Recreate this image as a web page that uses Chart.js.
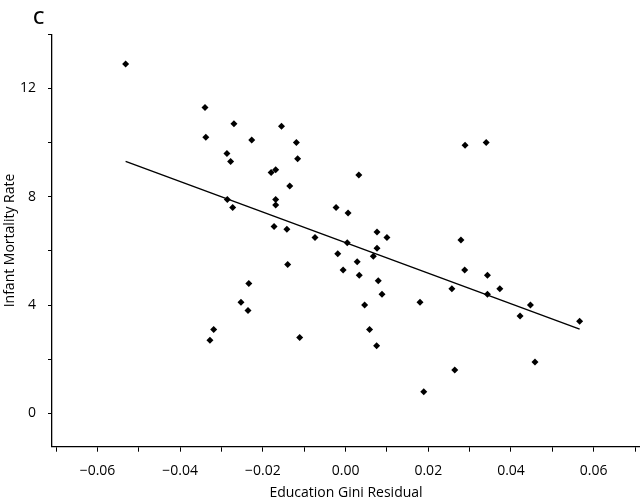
<!DOCTYPE html>
<html>
<head>
<meta charset="utf-8">
<script src="https://cdn.jsdelivr.net/npm/chart.js@4/dist/chart.umd.min.js"></script>
<style>
  html, body { margin: 0; padding: 0; background: #fff; }
  #wrap { position: relative; width: 640px; height: 501px; }
  #panel { position: absolute; left: 33px; top: 5px; font: 600 18px "Open Sans", sans-serif; color: #000; }
  canvas { display: block; }
</style>
</head>
<body>
<div id="wrap">
  <div id="panel">C</div>
  <canvas id="chart" width="640" height="501"></canvas>
</div>
<script>
// x: education Gini residual, y: infant mortality rate
const giniResidual = [
  -0.0532, -0.0340, -0.0270, -0.0338, -0.0227, -0.0287, -0.0278, -0.0155, -0.0119, -0.0116,
  -0.0180, -0.0169, -0.0135, -0.0023, 0.0006, -0.0286, -0.0273, -0.0169, -0.0169, -0.0173,
  -0.0142, -0.0074, 0.0032, 0.0076, 0.0100, 0.0004, 0.0076, 0.0067, -0.0019, 0.0028,
  -0.0006, 0.0033, 0.0079, 0.0088, 0.0046, 0.0180, 0.0058, 0.0075, -0.0111, 0.0189,
  -0.0140, -0.0234, -0.0253, -0.0236, -0.0319, -0.0328, 0.0289, 0.0340, 0.0279, 0.0288,
  0.0343, 0.0257, 0.0373, 0.0343, 0.0447, 0.0422, 0.0566, 0.0458, 0.0264
]
const infantMortality = [
  12.9, 11.3, 10.7, 10.2, 10.1, 9.6, 9.3, 10.6, 10.0, 9.4,
  8.9, 9.0, 8.4, 7.6, 7.4, 7.9, 7.6, 7.9, 7.7, 6.9,
  6.8, 6.5, 8.8, 6.7, 6.5, 6.3, 6.1, 5.8, 5.9, 5.6,
  5.3, 5.1, 4.9, 4.4, 4.0, 4.1, 3.1, 2.5, 2.8, 0.8,
  5.5, 4.8, 4.1, 3.8, 3.1, 2.7, 9.9, 10.0, 6.4, 5.3,
  5.1, 4.6, 4.6, 4.4, 4.0, 3.6, 3.4, 1.9, 1.6
]
// fitted regression line, read at its two ends
const fitX = [-0.0532, 0.0566]
const fitY = [9.31, 3.11]

const xTickValues = [-0.07, -0.06, -0.05, -0.04, -0.03, -0.02, -0.01, 0, 0.01, 0.02, 0.03, 0.04, 0.05, 0.06, 0.07]
const xTickLabels = ["", "\u22120.06", "", "\u22120.04", "", "\u22120.02", "", "0.00", "", "0.02", "", "0.04", "", "0.06", ""]
const yTickValues = [0, 2, 4, 6, 8, 10, 12, 14]
const yTickLabels = ["0", "", "4", "", "8", "", "12", ""]

const font = { family: "'Open Sans', sans-serif", size: 14 }
// tall line box pushes x labels down without adding edge padding
const xTickFont = { family: "'Open Sans', sans-serif", size: 14, lineHeight: 2.19 }

new Chart(document.getElementById("chart"), {
  data: {
    datasets: [
      {
        type: "scatter",
        data: giniResidual.map((x, i) => ({ x: x, y: infantMortality[i] })),
        pointStyle: "rectRot",
        pointRadius: 3.5,
        backgroundColor: "#000",
        borderColor: "#000",
        borderWidth: 0,
        order: 1,
      },
      {
        type: "line",
        data: fitX.map((x, i) => ({ x: x, y: fitY[i] })),
        borderColor: "#000",
        borderWidth: 1.4,
        pointRadius: 0,
        fill: false,
        order: 2,
      },
    ],
  },
  options: {
    responsive: false,
    animation: false,
    layout: { autoPadding: false, padding: { top: 34.3, right: 0, bottom: 0, left: 0 } },
    plugins: { legend: { display: false }, tooltip: { enabled: false } },
    scales: {
      x: {
        type: "linear",
        min: -0.071,
        max: 0.0712,
        afterBuildTicks: (s) => { s.ticks = xTickValues.map((v) => ({ value: v })) },
        afterFit: (s) => {
          s.height = 54.3
          s.paddingLeft = 0
          s.paddingRight = 0
        },
        grid: { drawOnChartArea: false, drawTicks: true, tickLength: 5, color: "#000", lineWidth: 1 },
        border: { display: true, color: "#000", width: 1.3 },
        ticks: {
          color: "#000",
          font: xTickFont,
          padding: 4,
          maxRotation: 0,
          autoSkip: false,
          callback: (v, i) => xTickLabels[i],
        },
        title: { display: true, text: "Education Gini Residual", color: "#000", font: font, padding: { top: 0, bottom: 0 } },
      },
      y: {
        type: "linear",
        min: -1.23,
        max: 14,
        afterBuildTicks: (s) => { s.ticks = yTickValues.map((v) => ({ value: v })) },
        afterFit: (s) => { s.width = 52 },
        grid: { drawOnChartArea: false, drawTicks: true, tickLength: 4, color: "#000", lineWidth: 1 },
        border: { display: true, color: "#000", width: 1.3 },
        ticks: {
          color: "#000",
          font: font,
          padding: 12,
          autoSkip: false,
          callback: (v, i) => yTickLabels[i],
        },
        title: { display: true, text: "Infant Mortality Rate", color: "#000", font: font, padding: { top: 2, bottom: 0 } },
      },
    },
  },
})
</script>
</body>
</html>
